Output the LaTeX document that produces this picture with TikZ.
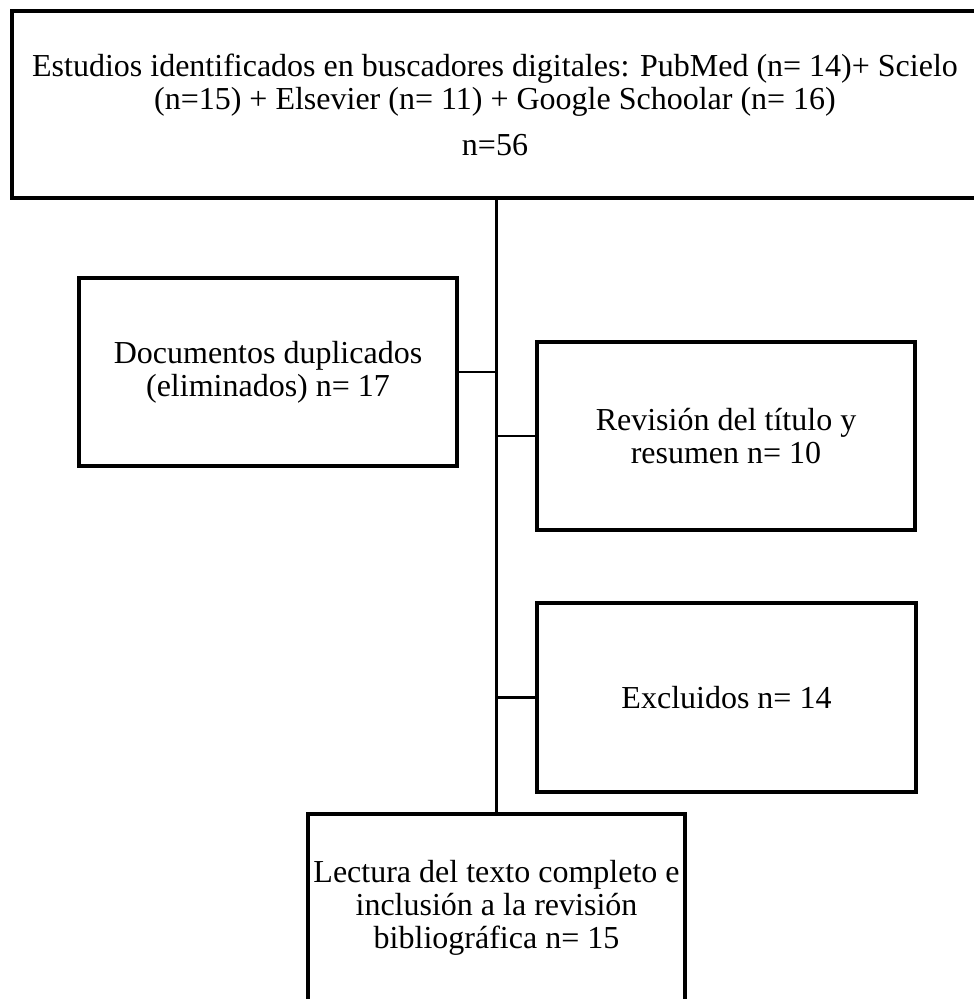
\documentclass[tikz,border=0pt]{standalone}
\usepackage{fontspec}
\setmainfont{Liberation Serif}
\begin{document}
\begin{tikzpicture}[x=1pt,y=-1pt,
  box/.style={draw=black,line width=4.2pt,rectangle,inner sep=0pt,align=center,
    font=\fontsize{32}{33}\selectfont},
  trunk/.style={draw=black,line width=3.2pt},
  branch/.style={draw=black,line width=2.3pt}]
\useasboundingbox (0,0) rectangle (974,999);
\clip (0,0) rectangle (974,999);
\node[box,minimum width=966pt,minimum height=187pt] (top) at (495,104.5)
  {Estudios identificados en buscadores digitales: PubMed (n= 14)+ Scielo\\
   (n=15) + Elsevier (n= 11) + Google Schoolar (n= 16)\\[13pt]
   n=56};
\node[box,minimum width=378pt,minimum height=188pt] (dup) at (268,372)
  {Documentos duplicados\\(eliminados) n= 17};
\node[box,minimum width=378pt,minimum height=188pt] (rev) at (726,436)
  {Revisión del título y\\resumen n= 10};
\node[box,minimum width=379pt,minimum height=189pt] (exc) at (726.5,697.5)
  {Excluidos n= 14};
\node[box,minimum width=377pt,minimum height=188pt] (lec) at (496.5,908)
  {Lectura del texto completo e\\inclusión a la revisión\\bibliográfica n= 15};
\draw[trunk] (top.south -| lec.north) -- (lec.north);
\draw[branch] (dup.east) -- (dup.east -| lec.north);
\draw[branch] (rev.west -| lec.north) -- (rev.west);
\draw[branch] (exc.west -| lec.north) -- (exc.west);
\end{tikzpicture}
\end{document}
